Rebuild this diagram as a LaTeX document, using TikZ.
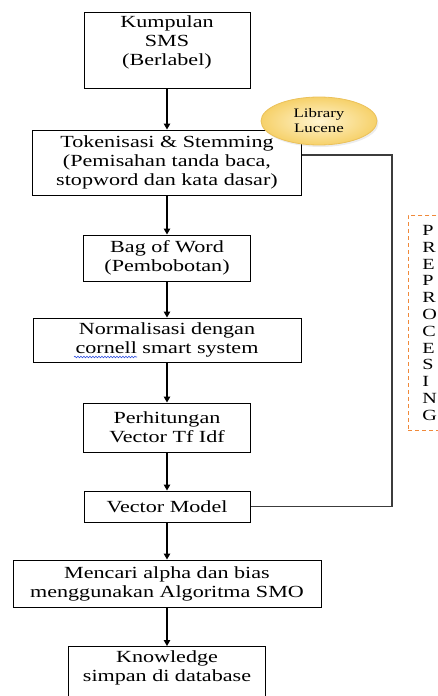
\documentclass[tikz,border=0pt]{standalone}
\usepackage{fontspec}
\setmainfont[FakeStretch=1.3]{Liberation Serif}
\usetikzlibrary{arrows.meta,shapes.geometric,decorations.pathmorphing,shadows}
\definecolor{goldin}{HTML}{FFF4CF}
\definecolor{goldout}{HTML}{F6D16A}
\definecolor{goldedge}{HTML}{EBC15A}
\definecolor{dashorange}{HTML}{F0893A}
\definecolor{linkgray}{HTML}{3C3C3C}
\definecolor{spellblue}{HTML}{3050E0}

\begin{document}
\begin{tikzpicture}[
    x=1pt, y=-1pt,
    box/.style={draw, line width=1pt, align=center, inner sep=3pt,
        font=\fontsize{17}{19}\selectfont},
    flow/.style={-{Triangle[length=6pt,width=6.5pt]}, line width=1.2pt},
    link/.style={draw=linkgray, line width=1.3pt},
    bubble/.style={ellipse, draw=goldedge, line width=.8pt, inner sep=0pt,
        minimum width=116pt, minimum height=48pt,
        shading=radial, inner color=goldin, outer color=goldout,
        drop shadow={opacity=.15, shadow xshift=1.5pt, shadow yshift=-2pt},
        font=\fontsize{13}{15}\selectfont, align=center},
    tag/.style={draw=dashorange, dashed, dash pattern=on 4pt off 3pt, line width=.9pt,
        align=left, text width=15pt, inner xsep=14pt, minimum height=215pt,
        font=\fontsize{15.5}{16.8}\selectfont}
]
    \useasboundingbox (0,0) rectangle (438,696);

    % main flow
    \node[box, minimum width=166pt, minimum height=76pt, text depth=18pt] (sms) at (167,50)
        {Kumpulan\\SMS\\(Berlabel)};
    \node[box, minimum width=269pt, minimum height=65pt] (token) at (167,162.5)
        {Tokenisasi \& Stemming\\(Pemisahan tanda baca,\\stopword dan kata dasar)};
    \node[box, minimum width=167pt, minimum height=46pt] (bow) at (167,258)
        {Bag of Word\\(Pembobotan)};
    \node[box, minimum width=268pt, minimum height=44pt] (norm) at (167,340)
        {Normalisasi dengan\\cornell smart system};
    \node[box, minimum width=167pt, minimum height=49pt] (tfidf) at (167,427.5)
        {Perhitungan\\Vector Tf Idf};
    \node[box, minimum width=166pt, minimum height=31pt] (vmodel) at (167,506.5)
        {Vector Model};
    \node[box, minimum width=308pt, minimum height=47pt] (smo) at (167,583.5)
        {Mencari alpha dan bias\\menggunakan Algoritma SMO};
    \node[box, minimum width=197pt, minimum height=60pt, text depth=20pt, anchor=north] (know) at (167,646)
        {Knowledge\\simpan di database};

    % spell check mark
    \draw[spellblue, line width=.6pt, decorate,
        decoration={snake, amplitude=.8pt, segment length=3pt}] (74,357) -- (137,357);

    \draw[flow] (sms) -- (token);
    \draw[flow] (token) -- (bow);
    \draw[flow] (bow) -- (norm);
    \draw[flow] (norm) -- (tfidf);
    \draw[flow] (tfidf) -- (vmodel);
    \draw[flow] (vmodel) -- (smo);
    \draw[flow] (smo) -- (know);

    % preprocessing bracket
    \coordinate (turn) at (392,155);
    \draw[link] ([yshift=7.5pt]token.east) -- (turn) |- (vmodel.east);

    \node[bubble] (lucene) at (319,121) {Library\\Lucene};

    \node[tag, anchor=north west] (prep) at (408,215)
        {P\\R\\E\\P\\R\\O\\C\\E\\S\\I\\N\\G};
\end{tikzpicture}
\end{document}
